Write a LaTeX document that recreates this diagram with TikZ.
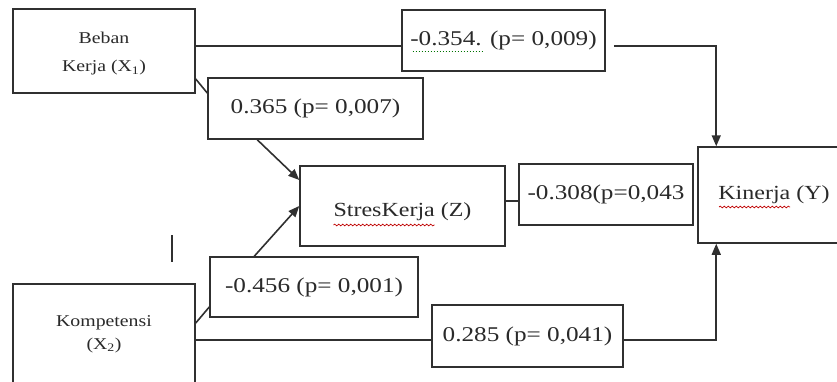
\documentclass[tikz,border=0pt]{standalone}
\usepackage{fontspec}
\setmainfont{Liberation Serif}[FakeStretch=1.2]
\usetikzlibrary{arrows.meta,calc,decorations.pathmorphing}
\definecolor{linec}{HTML}{303030}
\definecolor{textc}{HTML}{2A2A2A}
\begin{document}
\begin{tikzpicture}[x=1pt,y=-1pt,
  box/.style={draw=linec, line width=1.5pt, fill=white, inner sep=0pt, align=center, text=textc},
  txt/.style={inner sep=0pt, align=center, text=textc},
  lab/.style={box, font=\fontsize{21}{24}\selectfont},
  conn/.style={draw=linec, line width=1.6pt},
  arr/.style={conn, -{Triangle[length=11pt,width=9pt]}},
  spellred/.style={draw=red!75!black, line width=0.7pt, decorate, decoration={snake, amplitude=0.9pt, segment length=4pt}},
  spellgreen/.style={draw=green!45!black, line width=1pt, dotted}]
\useasboundingbox (0,0) rectangle (837,381);
% variable boxes
\node[box, minimum width=182pt, minimum height=84pt] (beban) at (104,51) {};
\node[txt, font=\fontsize{16.5}{28}\selectfont] (bebant) at ($(beban.center)+(0,3)$) {Beban\\Kerja (X\textsubscript{1})};
\node[box, minimum width=182pt, minimum height=100pt] (komp) at (104,334) {};
\node[txt, font=\fontsize{16.5}{23}\selectfont] (kompt) at (komp.center) {Kompetensi\\(X\textsubscript{2})};
\node[box, minimum width=205pt, minimum height=80pt] (stres) at (402.5,206) {};
\node[txt, font=\fontsize{20}{24}\selectfont] (strest) at ($(stres.center)+(0,6)$) {StresKerja (Z)};
\node[box, minimum width=152pt, minimum height=96pt] (kinerja) at (774,195) {};
\node[txt, font=\fontsize{20}{24}\selectfont] (kinerjat) at (kinerja.center) {Kinerja (Y)};
% coefficient boxes
\node[lab, minimum width=203pt, minimum height=61pt] (l1) at (503.5,40.5) {-0.354. (p= 0,009)};
\node[lab, minimum width=215pt, minimum height=61pt] (l2) at (315.5,108.5) {0.365 (p= 0,007)};
\node[lab, minimum width=174pt, minimum height=61pt] (l3) at (606,194.5) {-0.308(p=0,043};
\node[lab, minimum width=208pt, minimum height=60pt] (l4) at (314,287) {-0.456 (p= 0,001)};
\node[lab, minimum width=191pt, minimum height=62pt] (l5) at (527.5,336) {0.285 (p= 0,041)};
% spell-check marks
\draw[spellred] ($(stres.center)+(-69,19)$) -- ($(stres.center)+(32,19)$);
\draw[spellred] ($(kinerja.center)+(-55,12)$) -- ($(kinerja.center)+(16,12)$);
\draw[spellgreen] ($(l1.center)+(-91,11)$) -- ($(l1.center)+(-21,11)$);
% connectors
\coordinate (b1) at ($(beban.east)+(0,-5)$);
\draw[conn] (b1) -- (b1 -| l1.west);
\coordinate (k1) at ($(l1.east)+(8,5.5)$);
\draw[arr] (k1) -| ($(kinerja.north west)+(19,0)$);
\draw[conn] ($(beban.east)+(0,28)$) -- ($(l2.west)+(0,-15.5)$);
\draw[arr] ($(l2.south west)+(50,0)$) -- ($(stres.west)+(0,-26)$);
\draw[conn] ($(komp.east)+(0,-11)$) -- ($(l4.west)+(0,20)$);
\draw[arr] ($(l4.north west)+(45,0)$) -- (stres.west);
\coordinate (s1) at ($(stres.east)+(0,-5)$);
\draw[conn] (s1) -- (s1 -| l3.west);
\coordinate (k2) at ($(komp.east)+(0,6)$);
\draw[conn] (k2) -- (k2 -| l5.west);
\coordinate (k3) at ($(l5.east)+(0,4)$);
\draw[arr] (k3) -| ($(kinerja.south west)+(19,0)$);
% stray mark
\draw[conn] (172,235) -- (172,262);
\end{tikzpicture}
\end{document}
